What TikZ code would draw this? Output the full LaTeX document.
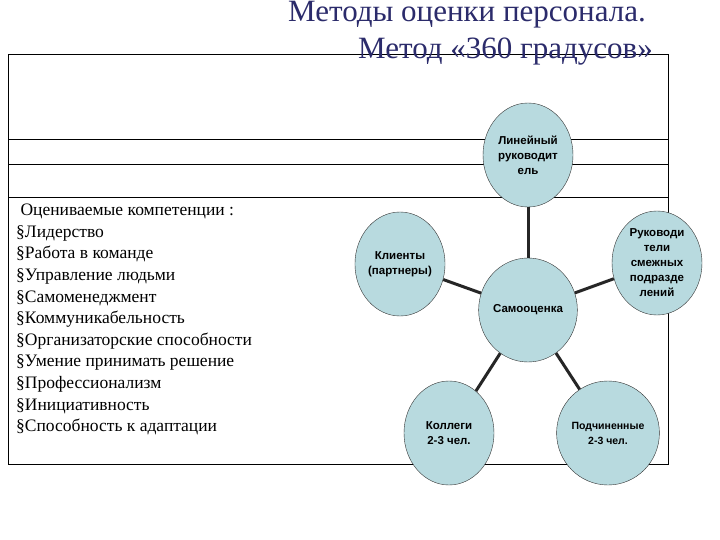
\documentclass[tikz,border=0pt]{standalone}
\usepackage{fontspec}
\setmainfont{Liberation Serif}
\newfontfamily\arialf{Liberation Sans}
\usetikzlibrary{shapes.geometric}
\definecolor{circfill}{HTML}{B8DADF}
\definecolor{titlecol}{HTML}{2B2B6B}
\tikzset{
 circ/.style={ellipse,draw=black!80,fill=circfill,minimum width=90pt,minimum height=104pt,inner sep=0pt,align=center,font=\arialf\bfseries\fontsize{11.5}{15}\selectfont},
 edge/.style={line width=3pt,draw=black!85},
 frame/.style={draw=black,line width=0.8pt},
 ttl/.style={anchor=base east,text=titlecol,font=\fontsize{31}{38}\selectfont,inner sep=0pt}
}
\begin{document}
\begin{tikzpicture}[x=1pt,y=-1pt]
\useasboundingbox (0,0) rectangle (720,540);
\fill[white] (0,0) rectangle (720,540);
\draw[frame] (8,54) rectangle (668,464);
\draw[frame] (8,139) -- (668,139);
\draw[frame] (8,164) -- (668,164);
\draw[frame] (8,197) -- (668,197);
\node (lin) [circ] at (528,155) {Линейный\\руководит\\ель};
\node (self) [circ] at (528,310) {Самооценка};
\node (kl) [circ] at (400,264) {Клиенты\\(партнеры)};
\node (ruk) [circ] at (657,263) {Руководи\\тели\\смежных\\подразде\\лений};
\node (kol) [circ] at (449,433) {Коллеги\\2-3 чел.};
\node (pod) [circ,font=\arialf\bfseries\fontsize{10.5}{15}\selectfont] at (608,433) {Подчиненные\\2-3 чел.};
\draw[edge] (self) -- (lin);
\draw[edge] (self) -- (kl);
\draw[edge] (self) -- (ruk);
\draw[edge] (self) -- (kol);
\draw[edge] (self) -- (pod);
\node (title1) [ttl] at (646,22) {Методы оценки персонала.};
\node (title2) [ttl] at (653,59) {Метод «360 градусов»};
\node (list) [anchor=north west,align=left,font=\fontsize{17.5}{21.6}\selectfont,inner sep=0pt] at (16,204) {~Оцениваемые компетенции :\\§Лидерство\\§Работа в команде\\§Управление людьми\\§Самоменеджмент\\§Коммуникабельность\\§Организаторские способности\\§Умение принимать решение\\§Профессионализм\\§Инициативность\\§Способность к адаптации};
\end{tikzpicture}
\end{document}
